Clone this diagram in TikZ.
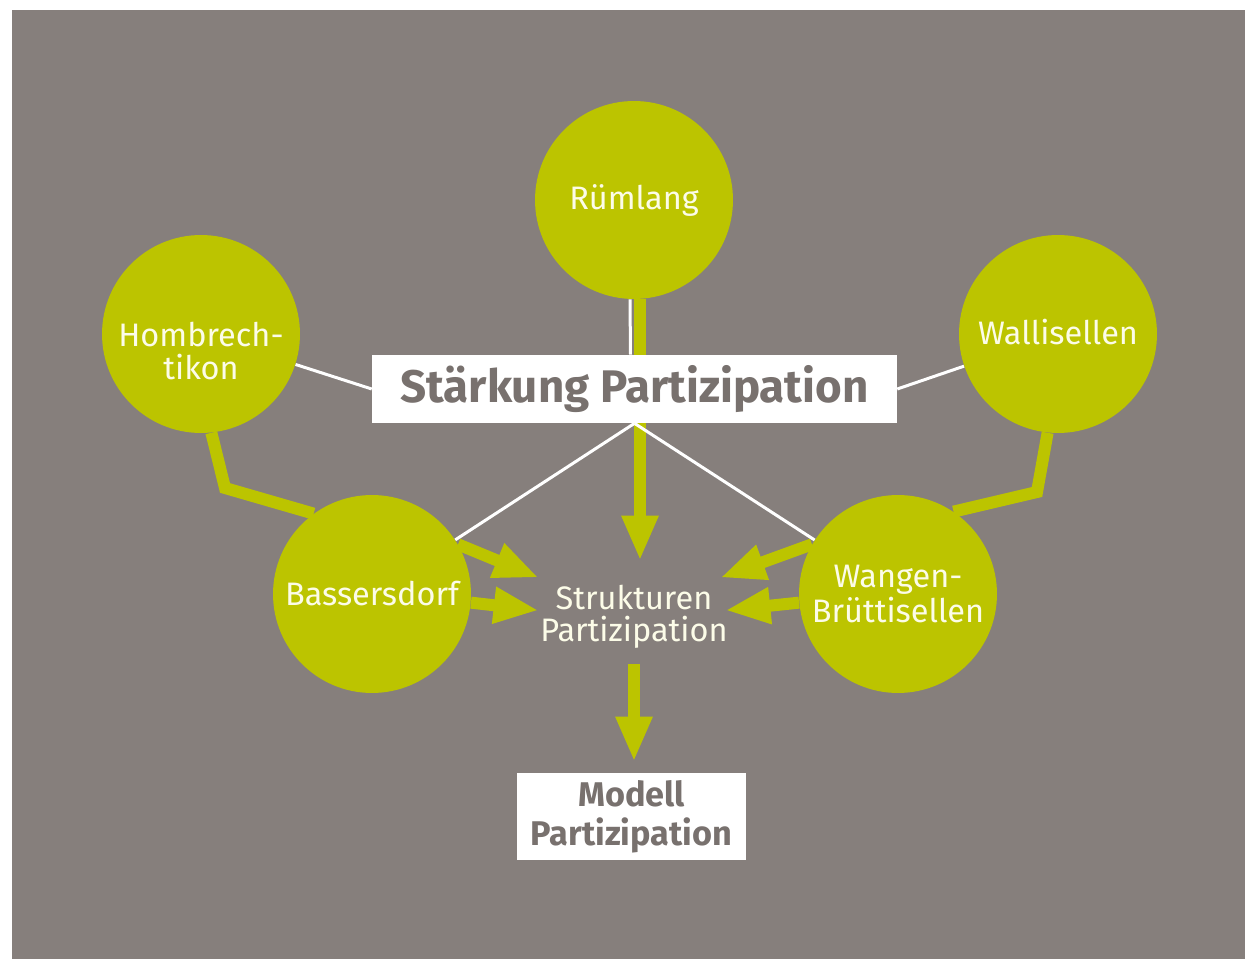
\documentclass[tikz,border=0pt]{standalone}
\usepackage{fontspec}
\setmainfont{Fira Sans}
\usetikzlibrary{arrows.meta,positioning}
\definecolor{bggray}{RGB}{134,127,124}
\definecolor{lime}{RGB}{188,196,0}
\definecolor{txtgray}{RGB}{120,113,110}
\definecolor{paleText}{RGB}{252,252,232}

\begin{document}
\begin{tikzpicture}[x=0.02cm, y=-0.02cm, >={Triangle[length=0.9cm,width=0.68cm]},
  town/.style={circle, fill=lime, minimum size=3.96cm, inner sep=0pt, text=paleText, align=center, font=\fontsize{18.5}{17.5}\selectfont},
  whitebox/.style={fill=white, text=txtgray, inner sep=0pt, align=center},
  flow/.style={->, draw=lime, line width=0.24cm},
  feed/.style={draw=lime, line width=0.24cm, line join=miter},
  link/.style={draw=white, line width=0.06cm}]
  \fill[bggray] (12,10) rectangle (1245,959);
  \useasboundingbox (0,0) rectangle (1245,959);

  % towns
  \node[town] (rum) at (634,200) {Rümlang};
  \node[town] (hom) at (201,334) {\raisebox{-0.58cm}[0pt][0pt]{\begin{tabular}{@{}c@{}}Hombrech-\\[-0.05cm]tikon\end{tabular}}};
  \node[town] (wal) at (1058,334) {\raisebox{0.08cm}{Wallisellen}};
  \node[town] (bas) at (372,594) {Bassersdorf};
  \node[town] (wan) at (898,594) {Wangen-\\Brüttisellen};

  % centre and result
  \node[text=paleText, align=center, minimum width=3.8cm, minimum height=1.44cm, inner sep=0pt,
        font=\fontsize{18.5}{18.5}\selectfont] (str) at (634,617) {Strukturen\\Partizipation};
  \node[whitebox, minimum width=4.58cm, minimum height=1.74cm,
        font=\fontsize{19.5}{22}\selectfont\bfseries] (mod) at (631.5,816.5) {Modell\\Partizipation};

  % green flows
  \draw[flow] ([xshift=0.12cm]rum.south) -- ([xshift=0.12cm, yshift=0.4cm]str.north);
  \draw[feed] (hom.276) -- (225,488) -- (bas.126);
  \draw[feed] (wal.264) -- (1037,492) -- (wan.56);
  \draw[flow] (bas.30) -- ([yshift=0.06cm]str.north west);
  \draw[flow] (bas.-5) -- (str.176);
  \draw[flow] (wan.150) -- ([xshift=-0.18cm, yshift=0.06cm]str.north east);
  \draw[flow] (wan.185) -- ([xshift=-0.08cm]str.4);
  \draw[flow, shorten <=0.22cm, shorten >=0.22cm] (str.south) -- (str.south |- mod.north);

  % main box
  \node[whitebox, minimum width=10.5cm, minimum height=1.36cm,
        font=\fontsize{26}{28}\selectfont\bfseries] (stp) at (634.5,389) {Stärkung Partizipation};

  % white links
  \draw[link] ([xshift=-0.08cm]rum.south) -- ([xshift=-0.08cm]stp.north);
  \draw[link] (stp.west) -- (hom);
  \draw[link] (stp.east) -- (wal);
  \draw[link] (stp.south) -- (bas);
  \draw[link] (stp.south) -- (wan);
\end{tikzpicture}
\end{document}
